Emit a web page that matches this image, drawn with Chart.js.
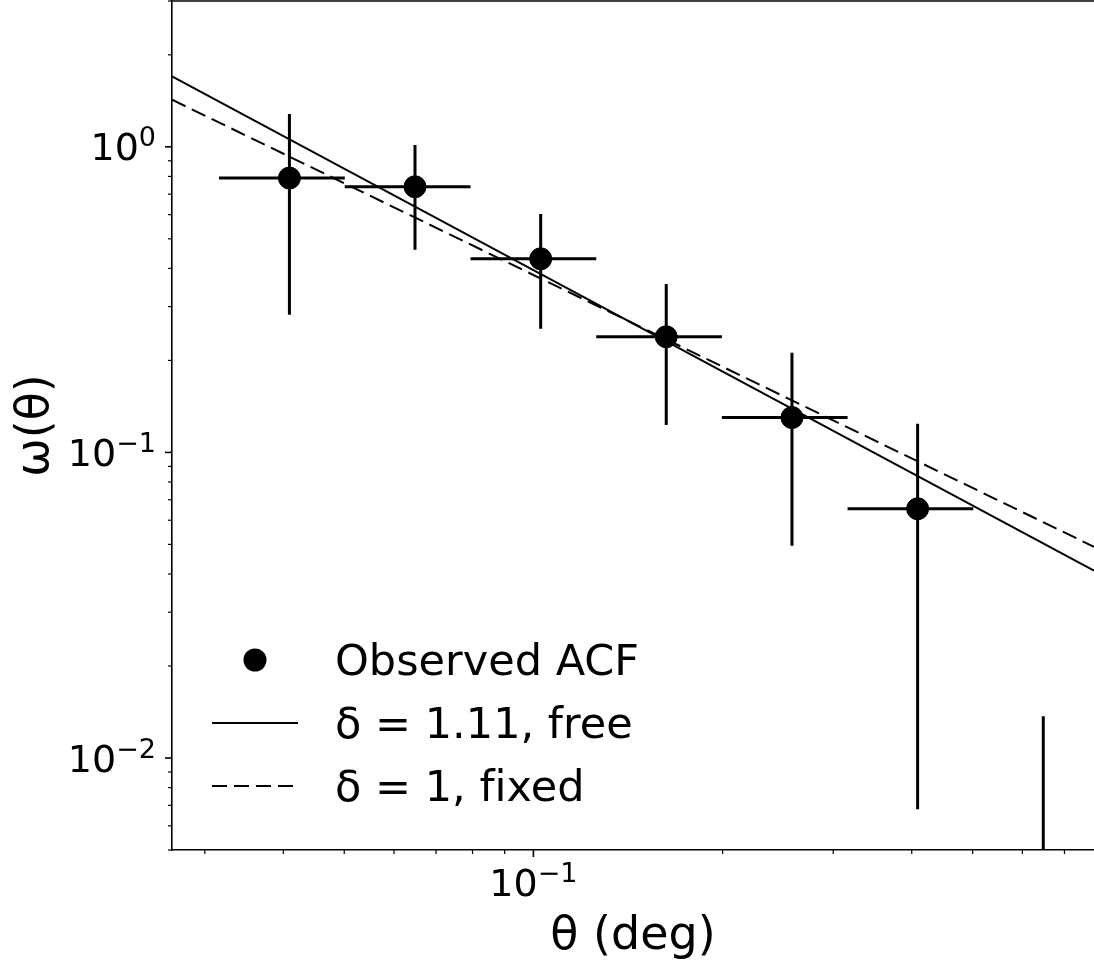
<!DOCTYPE html>
<html>
<head>
<meta charset="utf-8">
<title>Angular correlation function</title>
<script src="https://cdn.jsdelivr.net/npm/chart.js@4.4.1/dist/chart.umd.min.js"></script>
<style>
  body { margin: 0; background: #fff; }
  #wrap { width: 1094px; height: 967px; }
</style>
</head>
<body>
<div id="wrap"><canvas id="acfChart" width="1094" height="967"></canvas></div>
<script>
// angular bins (deg): centres and edges
const theta   = [0.0409, 0.0648, 0.1027, 0.1627, 0.2579, 0.4087, 0.6477];
const thetaLo = [0.0316, 0.0501, 0.0794, 0.1259, 0.1995, 0.3162, 0.5012];
const thetaHi = [0.0501, 0.0794, 0.1259, 0.1995, 0.3162, 0.5012, 0.7943];

// observed w(theta) with error bar ends; the last bin falls below the axis
const omega   = [0.79, 0.74, 0.43, 0.239, 0.130, 0.0654, null];
const omegaLo = [0.282, 0.46, 0.254, 0.123, 0.0495, 0.0068, 0.001];
const omegaHi = [1.28, 1.014, 0.603, 0.356, 0.212, 0.124, 0.0137];

// power-law fits at both ends of the theta range
const fitTheta = [0.0266, 0.78];
const fitFree  = [1.70, 0.0410];
const fitFixed = [1.426, 0.0491];

// tick positions and the labelled decades (base, exponent)
const xTicks = [0.03, 0.04, 0.05, 0.06, 0.07, 0.08, 0.09, 0.1, 0.2, 0.3, 0.4, 0.5, 0.6, 0.7];
const yTicks = [0.005, 0.006, 0.007, 0.008, 0.009, 0.01, 0.02, 0.03, 0.04, 0.05, 0.06, 0.07, 0.08, 0.09,
                0.1, 0.2, 0.3, 0.4, 0.5, 0.6, 0.7, 0.8, 0.9, 1, 2, 3];
const xTickLabels = { '0.1': ['10', '−1'] };
const yTickLabels = { '0.01': ['10', '−2'], '0.1': ['10', '−1'], '1': ['10', '0'] };

const FONT = "'DejaVu Sans', sans-serif";
const TICK_SIZE = 38, EXP_SIZE = 27;

// error bars as line segments separated by null gaps
const vBars = [];
theta.forEach((t, i) => {
    vBars.push({ x: t, y: omegaLo[i] }, { x: t, y: omegaHi[i] }, { x: t, y: null });
});
const hBars = [];
omega.forEach((w, i) => {
    if (w === null) return;
    hBars.push({ x: thetaLo[i], y: w }, { x: thetaHi[i], y: w }, { x: thetaHi[i], y: null });
});

const lineSet = (label, xs, ys, dash, legend) => ({
    label: label,
    data: xs.map((x, i) => ({ x: x, y: ys[i] })),
    showLine: true,
    borderColor: '#000',
    borderWidth: 2,
    borderDash: dash,
    pointRadius: 0,
    clip: 0,
    legendKind: legend
});

// "10" with a raised exponent, anchored at x by its centre or right end
function powerLabel(ctx, parts, x, baseline, align) {
    ctx.font = TICK_SIZE + 'px ' + FONT;
    const wBase = ctx.measureText(parts[0]).width;
    ctx.font = EXP_SIZE + 'px ' + FONT;
    const wExp = ctx.measureText(parts[1]).width;
    const left = align === 'center' ? x - (wBase + wExp) / 2 : x - (wBase + wExp);
    ctx.textAlign = 'left';
    ctx.textBaseline = 'alphabetic';
    ctx.font = TICK_SIZE + 'px ' + FONT;
    ctx.fillText(parts[0], left, baseline);
    ctx.font = EXP_SIZE + 'px ' + FONT;
    ctx.fillText(parts[1], left + wBase, baseline - 14);
}

// outward ticks (long for decades), their labels, and the top spine
const tickPlugin = {
    id: 'axisTicks',
    afterDraw(chart) {
        const { ctx, chartArea: a, scales: { x, y } } = chart;
        ctx.save();
        ctx.strokeStyle = '#000';
        ctx.fillStyle = '#000';
        x.ticks.forEach(t => {
            const px = x.getPixelForValue(t.value);
            ctx.lineWidth = t.major ? 1.6 : 1.2;
            ctx.beginPath();
            ctx.moveTo(px, a.bottom);
            ctx.lineTo(px, a.bottom + (t.major ? 7 : 4));
            ctx.stroke();
            if (xTickLabels[t.value]) powerLabel(ctx, xTickLabels[t.value], px, a.bottom + 46, 'center');
        });
        y.ticks.forEach(t => {
            const py = y.getPixelForValue(t.value);
            ctx.lineWidth = t.major ? 1.6 : 1.2;
            ctx.beginPath();
            ctx.moveTo(a.left, py);
            ctx.lineTo(a.left - (t.major ? 7 : 4), py);
            ctx.stroke();
            if (yTickLabels[t.value]) powerLabel(ctx, yTickLabels[t.value], a.left - 16, py + 13.5, 'right');
        });
        ctx.lineWidth = 1.6;
        ctx.beginPath();
        ctx.moveTo(a.left, a.top);
        ctx.lineTo(a.right, a.top);
        ctx.stroke();
        ctx.restore();
    }
};

// legend in the lower left corner of the plot
const legendPlugin = {
    id: 'acfLegend',
    afterDraw(chart) {
        const { ctx, chartArea: a } = chart;
        const rows = chart.data.datasets.filter(d => d.legendKind);
        const x0 = a.left + 40, x1 = a.left + 126, tx = a.left + 163;
        ctx.save();
        ctx.fillStyle = '#000';
        ctx.strokeStyle = '#000';
        ctx.font = '43px ' + FONT;
        ctx.textBaseline = 'alphabetic';
        // keep "fi" as two letters
        ctx.textRendering = 'optimizeSpeed';
        ctx.letterSpacing = '0.01px';
        rows.forEach((d, i) => {
            const ry = a.bottom - 190 + i * 63;
            if (d.legendKind === 'marker') {
                ctx.beginPath();
                ctx.arc((x0 + x1) / 2, ry, 11.5, 0, Math.PI * 2);
                ctx.fill();
            } else {
                ctx.lineWidth = d.borderWidth;
                ctx.setLineDash(d.borderDash || []);
                ctx.beginPath();
                ctx.moveTo(x0, ry);
                ctx.lineTo(x1, ry);
                ctx.stroke();
                ctx.setLineDash([]);
            }
            ctx.fillText(d.label, tx, ry + 15);
        });
        ctx.restore();
    }
};

new Chart(document.getElementById('acfChart'), {
    type: 'scatter',
    data: {
        datasets: [
            {
                label: 'Observed ACF',
                data: theta.map((t, i) => ({ x: t, y: omega[i] })),
                pointRadius: 11,
                pointBorderWidth: 1,
                backgroundColor: '#000',
                borderColor: '#000',
                clip: 0,
                legendKind: 'marker'
            },
            lineSet('δ = 1.11, free', fitTheta, fitFree, [], 'line'),
            lineSet('δ = 1, fixed', fitTheta, fitFixed, [15, 7], 'line'),
            {
                label: 'y errors',
                data: vBars,
                showLine: true,
                spanGaps: false,
                borderColor: '#000',
                borderWidth: 3,
                pointRadius: 0,
                clip: 0
            },
            {
                label: 'x errors',
                data: hBars,
                showLine: true,
                spanGaps: false,
                borderColor: '#000',
                borderWidth: 3,
                pointRadius: 0,
                clip: 0
            }
        ]
    },
    options: {
        responsive: false,
        animation: false,
        layout: { autoPadding: false, padding: { left: 0, right: 0, top: 1, bottom: 0 } },
        plugins: {
            legend: { display: false },
            tooltip: { enabled: false }
        },
        scales: {
            x: {
                type: 'logarithmic',
                position: 'bottom',
                min: 0.0266,
                max: 0.78,
                grid: { display: false, drawTicks: false },
                border: { display: true, color: '#000', width: 1.6 },
                afterBuildTicks: s => { s.ticks = xTicks.map(v => ({ value: v, major: v in xTickLabels })); },
                afterFit: s => { s.height = 117; s.paddingLeft = 0; s.paddingRight = 0; },
                ticks: { display: false, autoSkip: false },
                title: {
                    display: true,
                    text: 'θ (deg)',
                    color: '#000',
                    font: { family: FONT, size: 46 },
                    padding: { top: 0, bottom: 2 }
                }
            },
            y: {
                type: 'logarithmic',
                position: 'left',
                min: 0.005,
                max: 3,
                grid: { display: false, drawTicks: false },
                border: { display: true, color: '#000', width: 1.6 },
                afterBuildTicks: s => { s.ticks = yTicks.map(v => ({ value: v, major: v in yTickLabels })); },
                afterFit: s => { s.width = 172; s.paddingTop = 0; s.paddingBottom = 0; },
                ticks: { display: false, autoSkip: false },
                title: {
                    display: true,
                    text: 'ω(θ)',
                    color: '#000',
                    font: { family: FONT, size: 46 },
                    padding: { top: 8, bottom: 0 }
                }
            }
        }
    },
    plugins: [tickPlugin, legendPlugin]
});
</script>
</body>
</html>
